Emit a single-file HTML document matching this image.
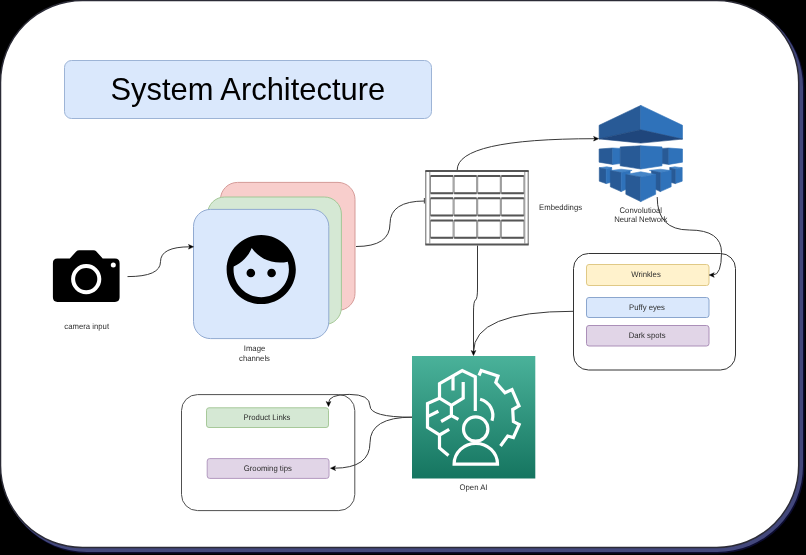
<!DOCTYPE html>
<html>
<head>
<meta charset="utf-8">
<title>System Architecture</title>
<style>
html,body{margin:0;padding:0;background:#000;}
body{width:806px;height:555px;overflow:hidden;position:relative;font-family:"Liberation Sans",sans-serif;}
svg{position:absolute;left:0;top:0;display:block;}
text{font-family:"Liberation Sans",sans-serif;fill:#2c2c2c;}
.lbl{font-size:8.1px;text-anchor:middle;text-rendering:geometricPrecision;}
.edge{fill:none;stroke:#383838;stroke-width:1;}
.ah{fill:#000;stroke:#000;stroke-width:0.5;stroke-linejoin:miter;}
</style>
</head>
<body>
<svg width="806" height="555" viewBox="0 0 806 555">
  <defs>
    <linearGradient id="gGreen" x1="0" y1="0" x2="0" y2="1">
      <stop offset="0" stop-color="#4ab29a"/>
      <stop offset="1" stop-color="#157560"/>
    </linearGradient>
  </defs>

  <!-- ===== page frame ===== -->
  <rect x="0" y="0" width="806" height="555" fill="#000"/>
  <rect x="1.5" y="1.5" width="803" height="552" rx="87" ry="87" fill="#0c0c30"/>
  <rect x="1" y="1" width="802" height="551" rx="86" ry="86" fill="#43487c"/>
  <rect x="0.5" y="0.5" width="798.2" height="547" rx="82" ry="82" fill="#fff" stroke="#2b2b36" stroke-width="1.5"/>

  <g id="content" style="will-change:transform">
  <!-- ===== title ===== -->
  <rect x="64.5" y="60.5" width="367" height="58" rx="7" ry="7" fill="#dae8fc" stroke="#9db4d6" stroke-width="1"/>
  <text x="247.8" y="99.5" style="text-anchor:middle;font-size:30.9px;fill:#000">System Architecture</text>

  <!-- ===== camera ===== -->
  <g id="camera">
    <path d="M57.5 258.6 H69.8 L76.2 251.6 Q77.4 250.3 79.2 250.3 H93.4 Q95.2 250.3 96.4 251.6 L102.7 258.6 H115 Q119.6 258.6 119.6 263.2 V297.3 Q119.6 301.9 115 301.9 H57.5 Q52.9 301.9 52.9 297.3 V263.2 Q52.9 258.6 57.5 258.6 Z" fill="#000"/>
    <circle cx="86.2" cy="279.1" r="13.1" fill="none" stroke="#fff" stroke-width="4"/>
    <circle cx="113.3" cy="265.1" r="2.5" fill="#fff"/>
  </g>
  <text class="lbl" transform="translate(86.7 329.2) scale(0.955 1)">camera input</text>

  <!-- ===== image channels ===== -->
  <rect x="220.5" y="182.4" width="134.5" height="128" rx="17" ry="17" fill="#f8cecc" stroke="#d59b98"/>
  <rect x="207.6" y="197" width="133.8" height="127.6" rx="17" ry="17" fill="#d5e8d4" stroke="#a4c796"/>
  <rect x="193.5" y="209.4" width="135.3" height="129.2" rx="17" ry="17" fill="#dae8fc" stroke="#91aad1"/>
  <g id="face" transform="translate(219.7,228) scale(3.46)">
    <path fill="#000" d="M9 11.75c-.69 0-1.25.56-1.25 1.25s.56 1.250 1.250 1.250 1.250-.56 1.250-1.250-.56-1.250-1.250-1.250zm6 0c-.69 0-1.250.56-1.250 1.250s.56 1.250 1.250 1.250 1.250-.56 1.250-1.250-.56-1.250-1.250-1.250zM12 2C6.480 2 2 6.480 2 12s4.480 10 10 10 10-4.480 10-10S17.520 2 12 2zm0 18c-4.410 0-8-3.590-8-8 0-.29.02-.58.05-.86 2.360-1.050 4.230-2.980 5.210-5.370C11.070 8.330 14.050 10 17.420 10c.78 0 1.530-.09 2.250-.26.210.71.330 1.470.330 2.260 0 4.410-3.590 8-8 8z"/>
  </g>
  <text class="lbl" transform="translate(254.5 350.7) scale(0.955 1)">Image</text>
  <text class="lbl" transform="translate(254.5 360.6) scale(0.955 1)">channels</text>
  <!-- ===== embeddings grid ===== -->
  <g id="grid">
    <rect x="425.5" y="171" width="103" height="73.5" fill="#fff" stroke="none"/>
    <path d="M425.8 171 V244.5 M528.2 171 V244.5" stroke="#666" stroke-width="1" fill="none"/>
    <path d="M429.8 172 V243.5 M524.8 172 V243.5" stroke="#909090" stroke-width="1" fill="none"/>
    <path d="M425.3 171 H528.7 M425.3 244.5 H528.7" stroke="#555" stroke-width="2" fill="none"/>
    <rect x="430.5" y="176.0" width="22.6" height="17.2" fill="#fff" stroke="#8c8c8c" stroke-width="1"/>
    <path d="M430.6 176.0 H453.0 M430.6 193.2 H453.0" stroke="#555" stroke-width="2" fill="none"/>
    <rect x="454.1" y="176.0" width="22.6" height="17.2" fill="#fff" stroke="#8c8c8c" stroke-width="1"/>
    <path d="M454.2 176.0 H476.6 M454.2 193.2 H476.6" stroke="#555" stroke-width="2" fill="none"/>
    <rect x="477.7" y="176.0" width="22.6" height="17.2" fill="#fff" stroke="#8c8c8c" stroke-width="1"/>
    <path d="M477.8 176.0 H500.2 M477.8 193.2 H500.2" stroke="#555" stroke-width="2" fill="none"/>
    <rect x="501.3" y="176.0" width="22.6" height="17.2" fill="#fff" stroke="#8c8c8c" stroke-width="1"/>
    <path d="M501.4 176.0 H523.8 M501.4 193.2 H523.8" stroke="#555" stroke-width="2" fill="none"/>
    <rect x="430.5" y="198.3" width="22.6" height="17.1" fill="#fff" stroke="#8c8c8c" stroke-width="1"/>
    <path d="M430.6 198.3 H453.0 M430.6 215.4 H453.0" stroke="#555" stroke-width="2" fill="none"/>
    <rect x="454.1" y="198.3" width="22.6" height="17.1" fill="#fff" stroke="#8c8c8c" stroke-width="1"/>
    <path d="M454.2 198.3 H476.6 M454.2 215.4 H476.6" stroke="#555" stroke-width="2" fill="none"/>
    <rect x="477.7" y="198.3" width="22.6" height="17.1" fill="#fff" stroke="#8c8c8c" stroke-width="1"/>
    <path d="M477.8 198.3 H500.2 M477.8 215.4 H500.2" stroke="#555" stroke-width="2" fill="none"/>
    <rect x="501.3" y="198.3" width="22.6" height="17.1" fill="#fff" stroke="#8c8c8c" stroke-width="1"/>
    <path d="M501.4 198.3 H523.8 M501.4 215.4 H523.8" stroke="#555" stroke-width="2" fill="none"/>
    <rect x="430.5" y="220.6" width="22.6" height="17.2" fill="#fff" stroke="#8c8c8c" stroke-width="1"/>
    <path d="M430.6 220.6 H453.0 M430.6 237.8 H453.0" stroke="#555" stroke-width="2" fill="none"/>
    <rect x="454.1" y="220.6" width="22.6" height="17.2" fill="#fff" stroke="#8c8c8c" stroke-width="1"/>
    <path d="M454.2 220.6 H476.6 M454.2 237.8 H476.6" stroke="#555" stroke-width="2" fill="none"/>
    <rect x="477.7" y="220.6" width="22.6" height="17.2" fill="#fff" stroke="#8c8c8c" stroke-width="1"/>
    <path d="M477.8 220.6 H500.2 M477.8 237.8 H500.2" stroke="#555" stroke-width="2" fill="none"/>
    <rect x="501.3" y="220.6" width="22.6" height="17.2" fill="#fff" stroke="#8c8c8c" stroke-width="1"/>
    <path d="M501.4 220.6 H523.8 M501.4 237.8 H523.8" stroke="#555" stroke-width="2" fill="none"/>
  </g>
  <text class="lbl" transform="translate(560.6 209.5) scale(0.955 1)">Embeddings</text>

  <!-- ===== results container ===== -->
  <rect x="573.5" y="253.5" width="162" height="116.5" rx="15" ry="15" fill="#fff" stroke="#333" stroke-width="1"/>
  <rect x="586.5" y="264.5" width="122.5" height="21" rx="2.5" ry="2.5" fill="#fff2cc" stroke="#e0c986"/>
  <rect x="586.5" y="297.5" width="122.5" height="20" rx="2.5" ry="2.5" fill="#dae8fc" stroke="#8ba6ce"/>
  <rect x="586.5" y="325.5" width="122.5" height="20.5" rx="2.5" ry="2.5" fill="#e1d5e7" stroke="#ab8fb8"/>
  <text class="lbl" transform="translate(646 277.4) scale(0.955 1)">Wrinkles</text>
  <text class="lbl" transform="translate(647 310.2) scale(0.955 1)">Puffy eyes</text>
  <text class="lbl" transform="translate(647.1 338.2) scale(0.955 1)">Dark spots</text>

  <!-- ===== outputs container ===== -->
  <rect x="181.5" y="394.6" width="173.3" height="116" rx="16" ry="16" fill="#fff" stroke="#505050" stroke-width="1"/>
  <rect x="206.5" y="407.8" width="122" height="19.7" rx="2.5" ry="2.5" fill="#d5e8d4" stroke="#a7c99a"/>
  <rect x="207.2" y="458.6" width="121.8" height="19.8" rx="2.5" ry="2.5" fill="#e1d5e7" stroke="#b39ac0"/>
  <text class="lbl" transform="translate(267 419.8) scale(0.955 1)">Product Links</text>
  <text class="lbl" transform="translate(267.8 470.9) scale(0.955 1)">Grooming tips</text>

  <!-- ===== Open AI ===== -->
  <rect x="412" y="356" width="123.3" height="122.5" fill="url(#gGreen)"/>
  <text class="lbl" transform="translate(473.5 490) scale(0.955 1)">Open AI</text>

  <!-- ===== CNN icon ===== -->
  <g id="cnn" transform="translate(640.8 0) scale(0.994 1) translate(-640.75 0)">
    <polygon points="640.7,105.4 598.8,125.3 598.8,138.9 640.7,129.8" fill="#285a96" stroke="#285a96" stroke-width="0.6" stroke-linejoin="round"/>
    <polygon points="640.7,105.4 682.7,125.3 682.7,139.1 640.7,129.8" fill="#2f72ba" stroke="#2f72ba" stroke-width="0.6" stroke-linejoin="round"/>
    <polygon points="598.8,138.9 640.7,129.8 682.7,139.1 640.7,143.1" fill="#1f467c" stroke="#1f467c" stroke-width="0.6" stroke-linejoin="round"/>
    <polygon points="598.8,149 612.5,148 612.5,164.4 598.8,162.2" fill="#285a96" stroke="#285a96" stroke-width="0.6" stroke-linejoin="round"/>
    <polygon points="612.5,148 620,148.4 620,163.6 612.5,164.4" fill="#2f72ba" stroke="#2f72ba" stroke-width="0.6" stroke-linejoin="round"/>
    <polygon points="662.1,148.4 669,148 669,164.4 662.1,163.6" fill="#285a96" stroke="#285a96" stroke-width="0.6" stroke-linejoin="round"/>
    <polygon points="669,148 682.7,149 682.7,162.2 669,164.4" fill="#2f72ba" stroke="#2f72ba" stroke-width="0.6" stroke-linejoin="round"/>
    <polygon points="620,146.9 640.7,145.8 640.7,169 620,165.8" fill="#285a96" stroke="#285a96" stroke-width="0.6" stroke-linejoin="round"/>
    <polygon points="640.7,145.8 662.1,146.9 662.1,165.8 640.7,169" fill="#2f72ba" stroke="#2f72ba" stroke-width="0.6" stroke-linejoin="round"/>
    <polygon points="599,167.7 606.5,166.8 611.5,167.6 605.9,169.3" fill="#4585c7" stroke="#4585c7" stroke-width="0.6" stroke-linejoin="round"/>
    <polygon points="599,167.7 605.9,169.3 605.9,183.6 599,181.2" fill="#285a96" stroke="#285a96" stroke-width="0.6" stroke-linejoin="round"/>
    <polygon points="605.9,169.3 611.5,167.6 611.5,182.2 605.9,183.6" fill="#2f72ba" stroke="#2f72ba" stroke-width="0.6" stroke-linejoin="round"/>
    <polygon points="682.4,167.7 674.9,166.8 669.9,167.6 675.5,169.3" fill="#4585c7" stroke="#4585c7" stroke-width="0.6" stroke-linejoin="round"/>
    <polygon points="682.4,167.7 675.5,169.3 675.5,183.6 682.4,181.2" fill="#2f72ba" stroke="#2f72ba" stroke-width="0.6" stroke-linejoin="round"/>
    <polygon points="675.5,169.3 669.9,167.6 669.9,182.2 675.5,183.6" fill="#285a96" stroke="#285a96" stroke-width="0.6" stroke-linejoin="round"/>
    <polygon points="610.1,170.6 621,169.2 632,170.4 621,172.6" fill="#4585c7" stroke="#4585c7" stroke-width="0.6" stroke-linejoin="round"/>
    <polygon points="610.1,170.6 621,172.6 621,191.6 610.1,186.8" fill="#285a96" stroke="#285a96" stroke-width="0.6" stroke-linejoin="round"/>
    <polygon points="621,172.6 630,170.8 630,187.5 621,191.6" fill="#2f72ba" stroke="#2f72ba" stroke-width="0.6" stroke-linejoin="round"/>
    <polygon points="671.3,170.6 660.4,169.2 649.4,170.4 660.4,172.6" fill="#4585c7" stroke="#4585c7" stroke-width="0.6" stroke-linejoin="round"/>
    <polygon points="671.3,170.6 660.4,172.6 660.4,191.6 671.3,186.8" fill="#2f72ba" stroke="#2f72ba" stroke-width="0.6" stroke-linejoin="round"/>
    <polygon points="660.4,172.6 651.4,170.8 651.4,187.5 660.4,191.6" fill="#285a96" stroke="#285a96" stroke-width="0.6" stroke-linejoin="round"/>
    <polygon points="625.7,174.5 640.7,171.8 655.7,174.5 640.7,177" fill="#4585c7" stroke="#4585c7" stroke-width="0.6" stroke-linejoin="round"/>
    <polygon points="625.7,174.5 640.7,177 640.7,201.6 625.7,194.3" fill="#285a96" stroke="#285a96" stroke-width="0.6" stroke-linejoin="round"/>
    <polygon points="640.7,177 655.7,174.5 655.7,194.3 640.7,201.6" fill="#2f72ba" stroke="#2f72ba" stroke-width="0.6" stroke-linejoin="round"/>
  </g>
  <text class="lbl" transform="translate(640.8 213.2) scale(0.955 1)">Convolutioal</text>
  <text class="lbl" transform="translate(640.8 222) scale(0.955 1)">Neural Network</text>
  <g id="aiglyph" fill="none" stroke="#fff" stroke-width="3.2" stroke-linejoin="miter" stroke-linecap="butt">
    <path d="M475.3 411 V376.8 L462.2 370.6 L439.5 383.6 V398.2 L427.5 403.6 V427.4 L439.5 435 V448 L448.5 455.5"/>
    <path d="M453 375.9 V390.5"/>
    <path d="M463.2 382 V398.2 L451.4 405.3 L439.5 398.2"/>
    <path d="M451.4 405.3 V415.5 M441.1 421.5 L451.4 415.5 L458.4 419.3"/>
    <path d="M427.5 416.6 L438.4 411.2"/>
    <path d="M439.5 435 L449.2 429.4"/>
    <path d="M479 375.5 L481.2 370.4 L498 376 L495.8 382.5 L505 392.8 L512 389.6 L519 405.8 L512.7 409.5 L513.4 421.6 L519.2 424.5 L513.4 437.5 L507.7 436 L500.5 446"/>
    <path d="M480.1 399.2 A16.8 16.8 0 0 1 492 420.7"/>
    <circle cx="475.7" cy="429" r="12.2"/>
    <path d="M454.1 464.1 A21.7 20.8 0 0 1 497.5 464.1 Z"/>
  </g>

  <!-- ===== edges ===== -->
  <path class="edge" d="M127.5 276.6 Q160.5 276.6 160.5 261.7 Q160.5 246.8 190 246.8"/>
  <path class="ah" d="M193.5 246.8 L188.5 249.1 L189.7 246.8 L188.5 244.5 Z"/>
  <path class="edge" d="M356 246.5 Q390 246.5 390 223.7 Q390 201 425 201"/>
  <path class="edge" d="M424.4 198 V203.5" style="stroke:#555;stroke-width:1.1"/>
  <path class="edge" d="M457.2 170 Q457.2 138.7 595 138.7"/>
  <path class="ah" d="M598.6 138.7 L593.6 141.0 L594.8 138.7 L593.6 136.4 Z"/>
  <path class="edge" d="M657.2 197 Q657.2 230 689.3 230 Q721.5 230 721.5 252.5 Q721.5 275 713 275"/>
  <path class="ah" d="M709.2 275.0 L714.2 272.7 L713.0 275.0 L714.2 277.3 Z"/>
  <path class="edge" d="M573 311.3 Q473.5 311.3 473.5 352"/>
  <path class="edge" d="M477.5 245.5 V288 Q477.5 299 475.5 300 Q473.5 301 473.5 312 V352"/>
  <path class="ah" d="M473.5 355.5 L471.2 350.5 L473.5 351.7 L475.8 350.5 Z"/>
  <path class="edge" d="M412 417.2 Q370 417.2 370 405.8 Q370 394.4 349.2 394.4 Q328.5 394.4 328.5 403"/>
  <path class="ah" d="M328.5 406.5 L326.2 401.5 L328.5 402.7 L330.8 401.5 Z"/>
  <path class="edge" d="M412 417.2 Q370 417.2 370 442.7 Q370 468.2 334 468.2"/>
  <path class="ah" d="M330.5 468.2 L335.5 465.9 L334.3 468.2 L335.5 470.5 Z"/>
  </g>
</svg>
</body>
</html>
